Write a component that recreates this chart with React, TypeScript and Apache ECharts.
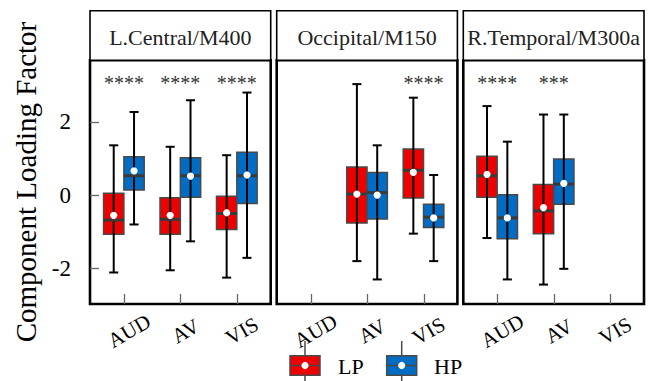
import React, { useEffect, useRef } from "react";
import * as echarts from "echarts";

// Conditions on each x axis, facet titles and the two groups
const categories = ["AUD", "AV", "VIS"];
const panelTitles = ["L.Central/M400", "Occipital/M150", "R.Temporal/M300a"];
const groupNames = ["LP", "HP"];
const groupColors = ["#EC0000", "#006CC4"];

// Box summaries: [category index, lower whisker, Q1, median, Q3, upper whisker, mean]
const centralLP = [
  [0, -2.11, -1.07, -0.68, 0.05, 1.36, -0.55],
  [1, -2.05, -1.07, -0.66, -0.07, 1.32, -0.55],
  [2, -2.25, -0.94, -0.5, -0.03, 1.09, -0.48],
];
const centralHP = [
  [0, -0.8, 0.14, 0.53, 1.05, 2.27, 0.66],
  [1, -1.26, -0.06, 0.53, 1.02, 2.59, 0.52],
  [2, -1.71, -0.23, 0.53, 1.17, 2.8, 0.55],
];
const occipitalLP = [
  [1, -1.8, -0.76, 0.03, 0.77, 3.03, 0.03],
  [2, -1.05, -0.08, 0.68, 1.26, 2.66, 0.62],
];
const occipitalHP = [
  [1, -2.3, -0.65, 0.07, 0.62, 1.36, 0.0],
  [2, -1.8, -0.88, -0.6, -0.25, 0.55, -0.62],
];
const temporalLP = [
  [0, -1.17, -0.06, 0.53, 1.06, 2.43, 0.57],
  [1, -2.44, -1.05, -0.43, 0.29, 2.2, -0.34],
];
const temporalHP = [
  [0, -2.3, -1.19, -0.62, 0.01, 1.46, -0.62],
  [1, -2.01, -0.25, 0.3, 0.99, 2.2, 0.32],
];

// Significance marks per panel and category
const centralSig = ["****", "****", "****"];
const occipitalSig = ["", "", "****"];
const temporalSig = ["****", "***", ""];

// Axes
const yTicks = [-2, 0, 2];
const yMin = -2.97;
const yMax = 3.68;
const sigY = 3.06;
const xMin = 0.4;
const xMax = 3.6;

const panelData = [
  { lp: centralLP, hp: centralHP, sig: centralSig },
  { lp: occipitalLP, hp: occipitalHP, sig: occipitalSig },
  { lp: temporalLP, hp: temporalHP, sig: temporalSig },
];

const FONT = "'Liberation Serif', 'DejaVu Serif', serif";
const BOX_W = 0.36;
const CAP_W = 0.16;
const DODGE = [-0.18, 0.18];

const GRID_LEFTS = [90, 276.7, 463.3];
const GRID_W = 180.7;
const GRID_TOP = 60.3;
const GRID_BOTTOM = 77;
const TICK_COLOR = "#666";
const X_TICK_LEN = 10;
const Y_TICK_LEN = 9;

function boxRenderer(color: string) {
  return (_params: any, api: any) => {
    const x = api.value(0);
    const lo = api.coord([x, api.value(1)]);
    const q1 = api.coord([x, api.value(2)]);
    const med = api.coord([x, api.value(3)]);
    const q3 = api.coord([x, api.value(4)]);
    const hi = api.coord([x, api.value(5)]);
    const mean = api.coord([x, api.value(6)]);
    const w = api.size([BOX_W, 0])[0];
    const cw = api.size([CAP_W, 0])[0];
    const cx = lo[0];
    return {
      type: "group",
      children: [
        {
          type: "rect",
          shape: { x: cx - w / 2, y: q3[1], width: w, height: q1[1] - q3[1] },
          style: { fill: color, stroke: "#4a4a4a", lineWidth: 1.5 },
        },
        {
          type: "line",
          shape: { x1: cx, y1: lo[1], x2: cx, y2: hi[1] },
          style: { stroke: "#000", lineWidth: 2 },
        },
        {
          type: "line",
          shape: { x1: cx - cw / 2, y1: lo[1], x2: cx + cw / 2, y2: lo[1] },
          style: { stroke: "#000", lineWidth: 2 },
        },
        {
          type: "line",
          shape: { x1: cx - cw / 2, y1: hi[1], x2: cx + cw / 2, y2: hi[1] },
          style: { stroke: "#000", lineWidth: 2 },
        },
        {
          type: "line",
          shape: { x1: cx - w / 2, y1: med[1], x2: cx + w / 2, y2: med[1] },
          style: { stroke: "#3a3a3a", lineWidth: 3 },
        },
        {
          type: "circle",
          shape: { cx, cy: mean[1], r: 3.6 },
          style: { fill: "#fff" },
        },
      ],
    };
  };
}

function sigRenderer(labels: string[]) {
  return (params: any, api: any) => {
    const p = api.coord([api.value(0), sigY]);
    return {
      type: "text",
      x: p[0],
      y: p[1],
      style: {
        text: labels[params.dataIndex],
        fontFamily: FONT,
        fontSize: 20,
        fill: "#333",
        align: "center",
        verticalAlign: "middle",
      },
    };
  };
}

// inward tick marks on the bottom edge (x) and left edge (y) of a panel
function xTickRenderer(_params: any, api: any) {
  const p = api.coord([api.value(0), yMin]);
  const x = Math.round(p[0]) + 0.5;
  return {
    type: "line",
    z2: 20,
    shape: { x1: x, y1: p[1], x2: x, y2: p[1] - X_TICK_LEN },
    style: { stroke: TICK_COLOR, lineWidth: 1.3 },
  };
}
function yTickRenderer(_params: any, api: any) {
  const p = api.coord([xMin, api.value(1)]);
  const y = Math.round(p[1]) + 0.5;
  return {
    type: "line",
    z2: 20,
    shape: { x1: p[0], y1: y, x2: p[0] + Y_TICK_LEN, y2: y },
    style: { stroke: TICK_COLOR, lineWidth: 1.3 },
  };
}

function buildOption() {
  const grid: any[] = [];
  const xAxis: any[] = [];
  const yAxis: any[] = [];
  const series: any[] = [];
  const graphic: any[] = [];
  const catPositions = categories.map((_, c) => c + 1);

  panelData.forEach((panel, i) => {
    grid.push({
      left: GRID_LEFTS[i],
      width: GRID_W,
      top: GRID_TOP,
      bottom: GRID_BOTTOM,
      show: true,
      borderColor: "#000",
      borderWidth: 2.6,
      backgroundColor: "transparent",
    });
    xAxis.push({
      type: "value",
      gridIndex: i,
      min: xMin,
      max: xMax,
      splitLine: { show: false },
      axisLine: { show: false, onZero: false },
      axisTick: { show: false },
      axisLabel: {
        show: true,
        customValues: catPositions,
        formatter: (v: number) => categories[Math.round(v) - 1] ?? "",
        rotate: 30,
        align: "center",
        verticalAlign: "middle",
        margin: 30,
        padding: [0, 0, 0, 12],
        fontFamily: FONT,
        fontSize: 21,
        color: "#000",
      },
    });
    yAxis.push({
      type: "value",
      gridIndex: i,
      min: yMin,
      max: yMax,
      splitLine: { show: false },
      axisLine: { show: false, onZero: false },
      axisTick: { show: false },
      axisLabel: {
        show: i === 0,
        customValues: yTicks,
        formatter: (v: number) => (v < 0 ? "-" + Math.abs(v) : String(v)),
        margin: 19,
        fontFamily: FONT,
        fontSize: 23,
        color: "#000",
      },
    });

    series.push({
      type: "custom",
      xAxisIndex: i,
      yAxisIndex: i,
      silent: true,
      renderItem: xTickRenderer,
      data: catPositions.map((c) => [c, yMin]),
      z: 10,
    });
    if (i === 0) {
      series.push({
        type: "custom",
        xAxisIndex: i,
        yAxisIndex: i,
        silent: true,
        renderItem: yTickRenderer,
        data: yTicks.map((v) => [xMin, v]),
        z: 10,
      });
    }

    [panel.lp, panel.hp].forEach((rows, g) => {
      series.push({
        type: "custom",
        name: groupNames[g],
        xAxisIndex: i,
        yAxisIndex: i,
        renderItem: boxRenderer(groupColors[g]),
        data: rows.map((r) => [r[0] + 1 + DODGE[g], r[1], r[2], r[3], r[4], r[5], r[6]]),
        z: 3,
      });
    });

    const sigCats: number[] = [];
    const sigLabels: string[] = [];
    panel.sig.forEach((s, c) => {
      if (s) {
        sigCats.push(c + 1);
        sigLabels.push(s);
      }
    });
    series.push({
      type: "custom",
      xAxisIndex: i,
      yAxisIndex: i,
      renderItem: sigRenderer(sigLabels),
      data: sigCats.map((c) => [c, sigY]),
      z: 4,
    });

    // facet title strip
    graphic.push({
      type: "group",
      children: [
        {
          type: "rect",
          shape: { x: GRID_LEFTS[i], y: 10.8, width: GRID_W, height: GRID_TOP - 10.8 },
          style: { fill: "#fff", stroke: "#000", lineWidth: 1.6 },
        },
        {
          type: "text",
          x: GRID_LEFTS[i] + GRID_W / 2,
          y: 37,
          style: {
            text: panelTitles[i],
            fontFamily: FONT,
            fontSize: 22,
            fill: "#222",
            align: "center",
            verticalAlign: "middle",
          },
        },
      ],
    });
  });

  // y axis title
  graphic.push({
    type: "text",
    x: 26,
    y: 182,
    rotation: Math.PI / 2,
    style: {
      text: "Component Loading Factor",
      fontFamily: FONT,
      fontSize: 29,
      fill: "#000",
      align: "center",
      verticalAlign: "middle",
    },
  });

  // legend keys
  const keyLefts = [290, 386.7];
  const textLefts = [338, 434];
  groupNames.forEach((name, g) => {
    const kx = keyLefts[g];
    const kc = kx + 15;
    graphic.push({
      type: "group",
      children: [
        {
          type: "line",
          shape: { x1: kc, y1: 341, x2: kc, y2: 381 },
          style: { stroke: "#4a4a4a", lineWidth: 1.5 },
        },
        {
          type: "rect",
          shape: { x: kx, y: 355.7, width: 30, height: 19.5 },
          style: { fill: groupColors[g], stroke: "#4a4a4a", lineWidth: 1.5 },
        },
        {
          type: "line",
          shape: { x1: kx, y1: 365.5, x2: kx + 30, y2: 365.5 },
          style: { stroke: "#4a4a4a", lineWidth: 1.5 },
        },
        {
          type: "circle",
          shape: { cx: kc, cy: 365.5, r: 3.6 },
          style: { fill: "#fff" },
        },
        {
          type: "text",
          x: textLefts[g],
          y: 366,
          style: {
            text: name,
            fontFamily: FONT,
            fontSize: 22,
            fill: "#000",
            align: "left",
            verticalAlign: "middle",
          },
        },
      ],
    });
  });

  return {
    animation: false,
    backgroundColor: "#fff",
    grid,
    xAxis,
    yAxis,
    series,
    graphic,
  };
}

export default function App() {
  const ref = useRef<HTMLDivElement>(null);
  useEffect(() => {
    if (!ref.current) return;
    const chart = echarts.init(ref.current, undefined, { renderer: "svg" });
    chart.setOption(buildOption() as any);
    return () => chart.dispose();
  }, []);
  return <div ref={ref} style={{ width: 655, height: 381, position: "absolute", left: 0, top: 0 }} />;
}
